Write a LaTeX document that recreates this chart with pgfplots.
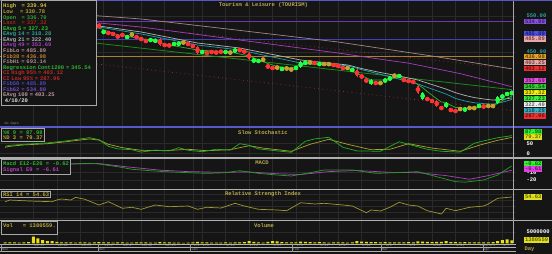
\documentclass[border=0pt]{standalone}
\usepackage{fontspec}
\setmonofont{Liberation Mono}
\usepackage{pgfplots}
\usepackage{pgfplotstable}
\pgfplotsset{compat=1.18}

\definecolor{bg}{HTML}{151515}
\definecolor{gridc}{HTML}{2A2A2A}
\definecolor{sepc}{HTML}{B0B0B0}
\definecolor{bluesep}{HTML}{5858C8}
\definecolor{candR}{HTML}{FF3333}
\definecolor{candG}{HTML}{22FF44}
\definecolor{candD}{HTML}{C8A030}
\definecolor{ema5}{HTML}{28B428}
\definecolor{ema14}{HTML}{20A0A8}
\definecolor{ema21}{HTML}{B4B4B4}
\definecolor{ema49}{HTML}{A83CC0}
\definecolor{ema100}{HTML}{A88484}
\definecolor{regc}{HTML}{1A8A1A}
\definecolor{cic}{HTML}{A83030}
\definecolor{fib62}{HTML}{6A38B0}
\definecolor{fib50}{HTML}{4040B8}
\definecolor{fib38}{HTML}{A88030}
\definecolor{olive}{HTML}{B8A850}
\definecolor{stK}{HTML}{22B022}
\definecolor{stD}{HTML}{B0A030}
\definecolor{macdc}{HTML}{22A022}
\definecolor{sigc}{HTML}{B040C0}
\definecolor{rsic}{HTML}{A09830}
\definecolor{volc}{HTML}{E8E010}
\definecolor{tealt}{HTML}{30A0A0}
\definecolor{datec}{HTML}{8C8C8C}
\definecolor{boxc}{HTML}{A8A8A8}

\newcommand\mono{\ttfamily\bfseries\fontsize{5.5}{5.56}\selectfont}
\newcommand\datefont{\ttfamily\fontsize{3.4}{3.6}\selectfont}

\pgfplotstableread{
i o h l c
20 527.8 530.6 513.9 516.7
22 505.6 508.3 497.2 500.0
23 502.8 505.6 494.4 497.2
24 497.2 500.0 486.1 488.9
25 500.0 502.8 491.7 494.4
28 494.4 497.2 486.1 488.9
29 488.9 491.7 480.6 483.3
30 483.3 486.1 475.0 477.8
33 486.1 488.9 466.7 469.4
34 472.2 475.0 463.9 466.7
35 471.0 474.0 463.0 465.3
39 475.0 477.8 466.7 469.4
40 469.4 472.2 461.1 463.9
41 463.9 466.7 444.4 447.2
43 450.0 452.8 441.7 444.4
44 452.8 455.6 444.4 447.2
45 451.5 454.0 443.0 446.0
46 453.5 456.0 445.5 448.0
50 458.3 461.1 450.0 452.8
51 455.6 458.3 444.4 447.2
52 447.2 450.0 427.8 430.6
56 413.9 416.7 402.8 405.6
57 408.3 411.1 400.0 402.8
66 422.2 425.0 413.9 416.7
70 416.7 419.4 408.3 411.1
71 413.9 416.7 405.6 408.3
72 408.3 411.1 400.0 402.8
75 400.0 402.8 380.6 383.3
76 386.1 388.9 375.0 377.8
77 375.0 377.8 363.9 366.7
79 366.7 369.4 358.3 361.1
85 375.0 377.8 366.7 369.4
86 372.2 375.0 363.9 366.7
87 369.4 372.2 361.1 363.9
88 355.6 358.3 333.3 336.1
90 322.2 325.0 313.9 316.7
91 316.7 319.4 308.3 311.1
92 313.9 316.7 297.2 300.0
93 297.2 300.0 288.9 291.7
95 291.7 294.4 283.3 286.1
96 288.9 291.7 280.6 283.3
102 300.0 302.8 294.4 297.2
}\redc

\pgfplotstableread{
i o h l c
21 502.8 511.1 500.0 508.3
26 488.9 497.2 486.1 494.4
31 480.6 488.9 477.8 486.1
32 479.2 486.1 476.4 483.3
36 469.4 477.8 466.7 475.0
37 470.5 478.5 467.5 476.0
42 447.2 455.6 444.4 452.8
47 447.2 455.6 444.4 452.8
49 450.0 461.1 447.2 458.3
53 422.2 433.3 419.4 430.6
54 422.2 430.6 419.4 427.8
59 400.0 408.3 397.2 405.6
62 402.8 411.1 400.0 408.3
63 408.3 425.0 405.6 422.2
64 418.1 425.0 415.3 422.2
67 413.9 422.2 411.1 419.4
74 397.2 405.6 394.4 402.8
78 361.1 375.0 358.3 372.2
81 366.7 377.8 363.9 375.0
82 372.2 383.3 369.4 380.6
84 380.6 388.9 377.8 386.1
89 319.4 338.9 316.7 336.1
94 297.2 311.1 294.4 308.3
98 286.1 297.2 283.3 294.4
101 297.2 305.6 294.4 302.8
105 308.3 327.8 305.6 325.0
106 322.2 333.3 319.4 330.6
107 330.6 338.9 327.8 336.1
108 336.70 339.94 330.78 337.32
}\greenc

\pgfplotstableread{
i o h l c
27 499.0 502.8 494.4 498.0
38 477.0 480.6 472.2 476.0
48 449.0 452.8 444.4 448.0
55 429.0 433.3 425.0 428.0
58 407.0 411.1 402.8 406.0
60 404.0 408.3 400.0 404.8
61 401.0 405.6 397.2 402.0
65 421.0 425.0 416.7 421.8
68 417.0 419.4 413.9 416.2
69 416.5 419.4 413.9 415.8
73 406.0 408.3 402.8 405.0
80 364.0 366.7 361.1 363.2
83 384.0 388.9 380.6 383.0
97 292.0 294.4 288.9 291.2
99 294.0 297.2 291.7 294.8
100 294.5 297.2 291.7 293.8
103 300.0 302.8 297.2 300.8
104 300.5 302.8 297.2 299.8
}\dojic

\pgfplotstableread{
i v
0 0.5
1 0.45
2 0.5
3 0.4
4 0.5
5 0.6
6 3.0
7 2.2
8 1.45
9 1.0
10 1.0
11 0.75
12 0.5
13 0.45
14 0.5
15 0.4
16 0.45
17 0.5
18 0.4
19 0.45
20 0.6
21 0.5
22 0.45
23 0.4
24 0.5
25 0.45
26 0.4
27 0.35
28 0.45
29 0.5
30 0.45
31 0.4
32 0.35
33 0.6
34 0.5
35 0.45
36 0.4
37 0.35
38 0.3
39 0.4
40 0.45
41 0.7
42 0.5
43 0.45
44 0.4
45 0.4
46 0.35
47 0.45
48 0.4
49 0.5
50 0.45
51 0.6
52 1.0
53 0.7
54 0.5
55 0.4
56 0.7
57 1.0
58 0.95
59 0.6
60 0.5
61 0.45
62 0.5
63 0.8
64 0.75
65 0.6
66 0.5
67 0.55
68 0.45
69 0.4
70 0.5
71 0.45
72 0.5
73 0.4
74 0.5
75 1.0
76 0.8
77 0.7
78 0.65
79 0.6
80 0.5
81 0.55
82 0.5
83 0.45
84 0.5
85 0.5
86 0.55
87 0.5
88 0.95
89 0.8
90 0.7
91 0.6
92 0.75
93 0.7
94 1.0
95 0.65
96 0.6
97 0.5
98 0.55
99 0.45
100 0.5
101 0.5
102 0.45
103 0.5
104 0.55
105 1.0
106 1.45
107 1.75
108 1.38
}\voldata

\newcommand\candles[2]{%
  \addplot[color=#2, only marks, mark=none, forget plot, error bars/.cd, y dir=both, y explicit, error mark=none,
    error bar style={line width=0.6pt, color=#2, solid}]
    table[x=i, y expr={(\thisrow{h}+\thisrow{l})/2}, y error expr={(\thisrow{h}-\thisrow{l})/2}] {#1};
  \addplot[color=#2, only marks, mark=none, forget plot, error bars/.cd, y dir=both, y explicit, error mark=none,
    error bar style={line width=2.8pt, color=#2, solid}]
    table[x=i, y expr={(\thisrow{o}+\thisrow{c})/2}, y error expr={max(abs(\thisrow{o}-\thisrow{c})/2,0.9)}] {#1};
}

\pgfplotsset{
  panel/.style={
    scale only axis, width=516pt,
    xmin=-1.1, xmax=108.9,
    axis line style={draw=none},
    major tick length=0pt,
    xtick={6,11,16,21,25,29,34,40,42,47,52,57,62,67,71,76,81,86,91,96,101,103,106},
    xticklabels={},
    xmajorgrids, ymajorgrids,
    major grid style={draw=gridc, line width=0.5pt},
    yticklabel pos=right,
    yticklabel style={font=\mono, text=white!85, anchor=west, xshift=7pt},
    clip=true,
  },
}

\newcommand\rlab[4]{\definecolor{rlf}{HTML}{#2}\definecolor{rlt}{HTML}{#3}%
  \node[anchor=west, fill=rlf, text=rlt, font=\mono, inner xsep=0.8pt, inner ysep=0pt, minimum height=5.4pt] at (524,#1) {#4};}

\begin{document}
\begin{tikzpicture}[x=1pt,y=1pt]
\useasboundingbox (0,0) rectangle (552,254);
\fill[bg] (0,0) rectangle (552,254);

% ---------------- main panel
\begin{axis}[panel, at={(0pt,127.5pt)}, anchor=south west, height=125.5pt,
  ymin=243.1, ymax=591.7, ytick={450,550}, yticklabels={450.00,550.00},
  yticklabel style={text=tealt}]
\addplot[fib62, line width=0.8pt] coordinates {(-1.1,534.80) (108.5,534.80)};
\addplot[fib50, line width=0.8pt] coordinates {(-1.1,485.89) (108.5,485.89)};
\addplot[fib38, line width=0.8pt] coordinates {(-1.1,436.98) (108.5,436.98)};
\addplot[cic, line width=0.7pt, dash pattern=on 0.7pt off 3.5pt] coordinates {(0,560.6) (108,403.12)};
\addplot[cic, line width=0.7pt, dash pattern=on 0.7pt off 3.5pt] coordinates {(0,445.4) (108,287.96)};
\addplot[regc, line width=0.8pt] coordinates {(0,503.0) (108,345.54)};
\addplot[ema100, line width=0.7pt] coordinates {(0,569.4) (29,541.7) (50,510) (71,477.8) (91,438.9) (108,403.25)};
\addplot[ema49, line width=0.7pt] coordinates {(0,555.6) (29,519.4) (71,447.2) (80,430) (86,419) (97,390) (108,353.69)};
\addplot[ema21, line width=0.7pt] coordinates {(0,544.4) (20,522.2) (29,505.6) (41,475.0) (50,461.1) (63,427.8) (73,414) (76,404) (80,393) (84,383.3) (88,372.2) (94,347) (96,337) (98,329.5) (100,323.5) (102,319.5) (104,316.5) (106,318.5) (108,322.40)};
\addplot[ema14, line width=0.7pt] coordinates {(0,538.9) (20,519.4) (29,500.0) (41,469.4) (50,455.6) (63,419.4) (73,412) (76,401) (80,388) (88,361.1) (94,333.3) (96,321) (98,314) (100,309) (102,306.7) (104,305.1) (105,307.8) (106,310.8) (107,314.2) (108,318.28)};
\addplot[ema5, line width=0.7pt] coordinates {(0,525.0) (20,516.7) (24,497.2) (31,483.3) (35,469.4) (41,455.6) (48,450.0) (52,438.9) (56,418) (58,410) (61,405.6) (64,416.7) (69,413.9) (73,402.8) (78,372.2) (81,372.2) (84,380.6) (85,372) (87,368) (88,359) (89,351) (90,340) (91,330) (92,320) (93,311) (94,310) (95,302) (96,296) (98,294) (101,297) (104,299) (105,307.6) (106,315) (107,322) (108,327.23)};
\candles{\dojic}{candD}
\candles{\redc}{candR}
\candles{\greenc}{candG}
\end{axis}

% ---------------- stochastic
\begin{axis}[panel, at={(0pt,96.5pt)}, anchor=south west, height=29.5pt,
  ymin=-21, ymax=126.5, ytick={0,50}, yticklabels={0,50}]
\addplot[stD, line width=0.7pt] coordinates {(0,30) (1,35) (4,42) (9,48) (13,58) (18,72) (20,66) (22,45) (25,28) (29,15) (34,13) (39,20) (43,13) (48,18) (52,38) (55,26) (61,10) (65,45) (69,70) (73,45) (78,18) (82,20) (86,48) (91,26) (97,10) (101,40) (105,65) (108,79.37)};
\addplot[stK, line width=0.7pt] coordinates {(0,35) (1,40) (4,45) (9,52) (13,62) (17,75) (18,78) (20,68) (22,35) (24,22) (27,18) (29,6) (32,16) (35,12) (37,28) (39,15) (42,8) (45,20) (48,16) (50,48) (52,40) (54,22) (58,12) (61,5) (64,60) (66,72) (69,80) (72,30) (75,12) (80,10) (84,58) (86,45) (90,20) (93,10) (97,6) (100,50) (102,62) (105,78) (108,87.98)};
\end{axis}

% ---------------- MACD
\begin{axis}[panel, at={(0pt,65pt)}, anchor=south west, height=30.5pt,
  ymin=-32.33, ymax=9.45, ytick={-20,-10}, yticklabels={-20,-10}]
\addplot[sigc, line width=0.7pt] coordinates {(0,4.5) (5,4) (13,2) (20,2.5) (26,-2) (33,-6.5) (39,-8.5) (46,-9.5) (52,-9) (58,-11.5) (63,-12.5) (69,-8.5) (75,-7) (82,-9.5) (88,-10) (94,-14) (99,-19) (103,-14) (108,-6.61)};
\addplot[macdc, line width=0.7pt] coordinates {(0,4) (5,3.5) (13,1.5) (18,2.9) (20,1.9) (24,-1.8) (27,-5.3) (31,-7.3) (34,-8.6) (39,-10) (43,-10.9) (47,-10) (50,-7.3) (54,-10.9) (58,-13.2) (61,-14.5) (65,-10) (68,-6.3) (74,-6.3) (79,-10.9) (83,-10) (88,-8.6) (92,-15.5) (96,-22.3) (98,-23) (102,-20) (105,-13.2) (108,-0.62)};
\end{axis}

% ---------------- RSI
\begin{axis}[panel, at={(0pt,34pt)}, anchor=south west, height=30pt,
  ymin=16.3, ymax=66.3, ytick={20,30,40,50,60}, yticklabels={}]
\addplot[rsic, line width=0.7pt] coordinates {(0,46.8) (1,49.6) (5,48) (10,46.8) (11,49.6) (12,51.3) (14,49.6) (15,54.1) (17,50.8) (20,41.3) (22,46.8) (25,35.8) (27,37.5) (29,34.1) (32,41.3) (35,38.5) (39,39.6) (41,34.1) (43,37.5) (46,36.3) (49,44.1) (51,39.6) (54,34.1) (58,33) (60,31.8) (63,45.1) (66,43) (68,44.1) (72,41.3) (74,39.6) (77,28.5) (78,33) (80,31.3) (82,37.5) (84,45.8) (86,41.3) (88,39.6) (90,31.8) (93,26.3) (94,35.8) (96,31.8) (99,37.5) (102,39.6) (103,43) (105,52.5) (108,54.63)};
\end{axis}

% ---------------- Volume
\begin{axis}[panel, at={(0pt,10.5pt)}, anchor=south west, height=22.5pt,
  ymin=0, ymax=9.78, ytick={5}, yticklabels={5000000},
  xticklabels={11/11,11/18,11/25,12/2,12/9,12/16,12/23,1/2,1/6,1/13,1/20,1/27,2/3,2/11,2/17,2/24,3/2,3/9,3/16,3/23,3/30,4/1,4/7},
  xticklabel style={font=\datefont, text=datec, anchor=north west, inner sep=0.3pt, xshift=0.3pt}]
\addplot[ybar, bar width=3pt, fill=volc, draw=none] table[x=i, y=v] {\voldata};
\end{axis}

% ---------------- separators
\draw[bluesep, line width=1pt] (0,253.5) -- (552,253.5);
\draw[bluesep, line width=1.2pt] (0,127) -- (552,127);
\draw[sepc, line width=1.3pt] (0,96) -- (552,96);
\draw[sepc, line width=1.3pt] (0,64.5) -- (552,64.5);
\draw[sepc, line width=1.3pt] (0,33.5) -- (552,33.5);
\draw[gray!70, line width=1.3pt] (513.8,10.5) -- (513.8,253);
\draw[gray!60, line width=0.5pt] (0,10.2) -- (516,10.2);
\draw[gray!60, line width=0.5pt] (0,6.6) -- (516,6.6);
\draw[gray!60, line width=0.5pt] (0,2.3) -- (516,2.3);
\foreach \mx/\mn in {1/Nov,98/Dec,190.5/Jan,292/Feb,381/Mar,483/Apr}{
  \draw[gray!80, line width=0.5pt] (\mx,2.3) -- (\mx,10.2);
  \node[font=\datefont, text=datec, anchor=west, inner sep=0.3pt] at (\mx+0.5,4.5) {\mn};
}
\node[font=\mono, text=olive, anchor=west] at (521,5) {Day};

% ---------------- titles
\node[font=\mono, text=olive] at (263.5,249) {Tourism \& Leisure (TOURISM)};
\node[font=\mono, text=olive] at (263,121) {Slow Stochastic};
\node[font=\mono, text=olive] at (262,91) {MACD};
\node[font=\mono, text=olive] at (263,60) {Relative Strength Index};
\node[font=\mono, text=olive] at (264,28) {Volume};
\node[font=\datefont, text=datec, anchor=west] at (1,130) {No Gaps};

% ---------------- legend boxes
\node[draw=boxc, line width=1pt, fill=bg, anchor=north west, inner xsep=2pt, inner ysep=3pt,
  align=left, font=\mono, text width=91pt] at (0.5,253.5) {%
\textcolor[HTML]{C8C040}{High~~~=~339.94}\\
\textcolor[HTML]{B89838}{Low~~~~=~330.78}\\
\textcolor[HTML]{30A030}{Open~~~=~336.70}\\
\textcolor[HTML]{A82020}{Last~~~=~337.32}\\
\textcolor[HTML]{30C030}{EAvg 5 = 327.23}\\
\textcolor[HTML]{30A0A0}{EAvg 14 = 318.28}\\
\textcolor[HTML]{B0B0B0}{EAvg 21 = 322.40}\\
\textcolor[HTML]{A040C0}{EAvg 49 = 353.69}\\
\textcolor[HTML]{B89090}{FibLo = 485.89}\\
\textcolor[HTML]{C08030}{Fib38 = 436.98}\\
\textcolor[HTML]{A09090}{FibHi = 693.14}\\
\textcolor[HTML]{30B030}{Regression Cont1200 = 345.54}\\
\textcolor[HTML]{C02828}{CI High 95\% = 403.12}\\
\textcolor[HTML]{C02828}{CI Low 95\% = 287.96}\\
\textcolor[HTML]{4848C8}{Fib50 = 485.89}\\
\textcolor[HTML]{7848C0}{Fib62 = 534.80}\\
\textcolor[HTML]{B89898}{EAvg 100 = 403.25}\\
\textcolor[HTML]{E0E0E0}{~4/10/20}};

\node[draw=boxc, line width=1pt, fill=bg, anchor=north west, inner xsep=1.5pt, inner ysep=2pt,
  align=left, font=\mono] at (1,126) {%
\textcolor[HTML]{30B030}{\%K 9 = 87.98}\\
\textcolor[HTML]{B8A838}{\%D 3 = 79.37}};

\node[draw=boxc, line width=1pt, fill=bg, anchor=north west, inner xsep=1.5pt, inner ysep=2pt,
  align=left, font=\mono] at (1,94.5) {%
\textcolor[HTML]{30B030}{Macd E12-E26 = -0.62}\\
\textcolor[HTML]{B040C0}{Signal E9 = -6.61}};

\node[draw=boxc, line width=1pt, fill=bg, anchor=north west, inner xsep=1.5pt, inner ysep=1.2pt,
  align=left, font=\mono] at (1,63) {\textcolor[HTML]{B8A838}{RSI 14 = 54.63}};

\node[draw=boxc, line width=1pt, fill=bg, anchor=north west, inner xsep=1.5pt, inner ysep=1.5pt,
  align=left, font=\mono, minimum height=13pt, text depth=6pt] at (1,32.5) {\textcolor[HTML]{B8A838}{Vol~~~=~1380559.}};

% ---------------- right value boxes
\rlab{232.5}{8850D8}{3A1A70}{534.80}
\rlab{220.5}{5050E0}{1A1A60}{485.89}
\rlab{215}{E8A8A8}{704040}{485.89}
\rlab{197.3}{E8A020}{604010}{436.98}
\rlab{191.5}{E0A8A8}{704040}{403.25}
\rlab{185.5}{F03030}{601010}{403.12}
\rlab{173.5}{E050E0}{601860}{353.69}
\rlab{167.5}{30D030}{105010}{345.54}
\rlab{161.5}{F0F000}{606000}{337.32}
\rlab{155.7}{40F040}{106010}{327.23}
\rlab{149.7}{F0F0F0}{606060}{322.40}
\rlab{143.7}{30B0C0}{104850}{318.28}
\rlab{138}{F03030}{601010}{287.96}
\rlab{122.5}{30F030}{106010}{87.98}
\rlab{117}{E0E020}{606000}{79.37}
\rlab{90}{30F030}{106010}{-0.62}
\rlab{85}{E040E0}{601860}{-6.61}
\rlab{57}{E0E020}{606000}{54.63}
\rlab{14}{E0E020}{606000}{1380559}
\end{tikzpicture}
\end{document}
